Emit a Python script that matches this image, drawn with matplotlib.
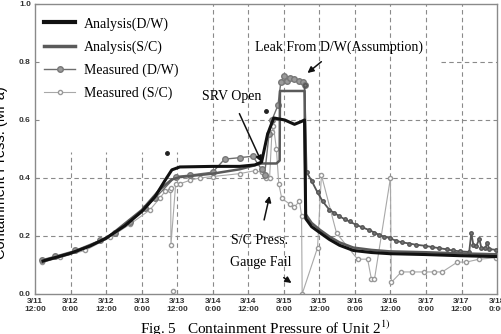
import matplotlib
matplotlib.use("Agg")
import matplotlib.pyplot as plt

plt.rcParams['mathtext.fontset'] = 'stix'

# hours counted from 3/11 12:00
tick_hours = [0, 12, 24, 36, 48, 60, 72, 84, 96, 108, 120, 132, 144, 156]
tick_labels = ["3/11\n12:00", "3/12\n0:00", "3/12\n12:00", "3/13\n0:00", "3/13\n12:00",
               "3/14\n0:00", "3/14\n12:00", "3/15\n0:00", "3/15\n12:00", "3/16\n0:00",
               "3/16\n12:00", "3/17\n0:00", "3/17\n12:00", "3/18\n0:00"]

# Analysis (D/W)
adw_t = [2.7, 11.8, 18.5, 23.9, 30.3, 36.1, 40.5, 43.8, 46.2, 48.9, 60.0, 69.1, 74.2, 76.5,
         78.5, 80.6, 84.3, 87.6, 90.0, 91.0, 91.4, 93.4, 96.1, 99.4, 102.8, 107.5, 113.6,
         119.7, 131.8, 143.6, 155.7]
adw_p = [0.114, 0.140, 0.165, 0.192, 0.235, 0.285, 0.335, 0.390, 0.428, 0.438, 0.440, 0.440,
         0.445, 0.455, 0.550, 0.607, 0.600, 0.585, 0.595, 0.600, 0.260, 0.232, 0.212, 0.188,
         0.168, 0.150, 0.143, 0.139, 0.136, 0.132, 0.129]

# Analysis (S/C)
asc_t = [2.7, 11.8, 23.9, 36.1, 42.1, 46.2, 48.9, 60.0, 69.1, 76.5, 81.5, 82.6, 82.7, 91.0,
         91.4, 93.4, 96.1, 99.4, 102.8, 107.5, 113.6, 119.7, 131.8, 143.6, 155.7]
asc_p = [0.112, 0.138, 0.190, 0.290, 0.360, 0.395, 0.403, 0.415, 0.430, 0.450, 0.450, 0.460,
         0.700, 0.700, 0.275, 0.245, 0.222, 0.198, 0.178, 0.160, 0.152, 0.147, 0.144, 0.140,
         0.137]

# Measured (D/W)
mdw_t = [2.4, 6.7, 13.5, 21.9, 27.0, 32.0, 37.1, 40.5, 47.5, 52.3, 60.0, 64.0, 69.1, 73.5,
         76.5, 77.5, 79.0, 80.0, 82.0, 83.0, 84.0, 85.0, 86.0, 87.5, 89.0, 90.5, 91.0]
mdw_p = [0.118, 0.130, 0.150, 0.185, 0.212, 0.248, 0.298, 0.330, 0.405, 0.410, 0.420, 0.465,
         0.470, 0.475, 0.430, 0.410, 0.550, 0.600, 0.650, 0.730, 0.750, 0.735, 0.745, 0.740,
         0.735, 0.730, 0.720]
mdw2_t = [91.0, 91.7, 93.4, 95.4, 97.1, 99.4, 101.0, 102.8, 104.5, 106.2, 108.5, 110.5,
          112.9, 114.6, 116.3, 118.0, 119.7, 122.0, 124.0, 126.4, 128.5, 131.8, 134.0, 136.5,
          139.0, 141.0, 143.6, 146.6, 147.3, 148.0, 149.0, 150.0, 150.7, 152.0, 152.7, 153.4,
          155.7]
mdw2_p = [0.720, 0.420, 0.390, 0.350, 0.320, 0.290, 0.280, 0.268, 0.258, 0.250, 0.238, 0.230,
          0.220, 0.212, 0.203, 0.198, 0.193, 0.183, 0.178, 0.174, 0.170, 0.166, 0.162, 0.158,
          0.154, 0.150, 0.147, 0.145, 0.210, 0.170, 0.165, 0.190, 0.160, 0.158, 0.175, 0.155,
          0.152]
stray_t = [44.5, 77.9]
stray_p = [0.486, 0.631]

# Measured (S/C)
msc_t = [2.4, 8.4, 16.9, 25.3, 32.0, 38.8, 42.1, 44.0, 45.5, 45.8, 45.9, 47.5, 48.9, 52.3,
         55.6, 60.0, 69.1, 74.2, 76.5, 77.9, 79.2, 80.0, 80.5, 81.5, 82.3, 83.3, 86.0, 87.6,
         89.3, 90.0, 90.2, 95.4, 96.7, 101.8, 108.9, 112.3, 113.6, 114.6, 120.0, 120.3,
         123.7, 127.4, 131.5, 134.8, 137.5, 142.6, 145.6, 150.0, 155.7]
msc_p = [0.110, 0.128, 0.150, 0.195, 0.240, 0.290, 0.330, 0.355, 0.360, 0.365, 0.170, 0.380,
         0.380, 0.392, 0.400, 0.405, 0.415, 0.425, 0.420, 0.400, 0.400, 0.560, 0.580, 0.500,
         0.380, 0.330, 0.310, 0.300, 0.320, 0.270, 0.000, 0.160, 0.410, 0.210, 0.120, 0.120,
         0.050, 0.050, 0.400, 0.040, 0.076, 0.076, 0.076, 0.076, 0.076, 0.110, 0.110, 0.120,
         0.125]
msc_fail_t = [46.5]
msc_fail_p = [0.010]

fig = plt.figure(figsize=(5.01, 3.34), dpi=100)
ax = fig.add_axes([0.0699, 0.1198, 0.9222, 0.8683])

# grid, partly hidden behind legend as in the original
grid_kw = dict(colors='#8a8a8a', linestyles=(0, (4, 3)), linewidths=0.8, zorder=1)
for h in tick_hours[1:-1]:
    ax.vlines(h, 0, 0.49 if h < 50 else 1.0, **grid_kw)
ax.hlines([0.2, 0.4], 0, 156, **grid_kw)
ax.hlines(0.6, 60, 156, **grid_kw)
ax.hlines(0.8, 137, 156, **grid_kw)

l_adw, = ax.plot(adw_t, adw_p, color='#111111', lw=2.2, zorder=5)
l_asc, = ax.plot(asc_t, asc_p, color='#5a5a5a', lw=1.8, zorder=4)
l_mdw, = ax.plot(mdw_t, mdw_p, color='#6e6e6e', lw=1.0, marker='o', ms=4,
                 mfc='#9a9a9a', mec='#777777', zorder=3)
ax.plot(mdw2_t, mdw2_p, color='#555555', lw=1.3, marker='o', ms=2.5,
        mfc='#777777', mec='#555555', zorder=3)
ax.plot(stray_t, stray_p, ls='none', marker='o', ms=2.5, color='#222222', zorder=3)
l_msc, = ax.plot(msc_t, msc_p, color='#a8a8a8', lw=0.8, marker='o', ms=3,
                 mfc='white', mec='#999999', zorder=2)
ax.plot(msc_fail_t, msc_fail_p, ls='none', marker='o', ms=3, mfc='white', mec='#999999',
        zorder=2)

ax.set_xlim(0, 156)
ax.set_ylim(0, 1.0)
ax.set_xticks(tick_hours)
ax.set_xticklabels(tick_labels)
ax.set_yticks([0, 0.2, 0.4, 0.6, 0.8, 1.0])
ax.set_yticklabels(["0.0", "0.2", "0.4", "0.6", "0.8", "1.0"])
ax.tick_params(direction='in', length=3, color='#888888', labelsize=6, pad=3)
for lab in ax.get_xticklabels() + ax.get_yticklabels():
    lab.set_family('Liberation Sans')
    lab.set_fontweight('bold')
    lab.set_color('#333333')
for s in ax.spines.values():
    s.set_color('#8a8a8a')
    s.set_linewidth(1.0)

ax.set_ylabel("Containment Press. (MPa)", family='Liberation Sans', fontsize=10.5)
ax.yaxis.set_label_coords(-0.058, 0.42)

leg = ax.legend([l_adw, l_asc, l_mdw, l_msc],
                ["Analysis(D/W)", "Analysis(S/C)", "Measured (D/W)", "Measured (S/C)"],
                loc='upper left', bbox_to_anchor=(0.02, 0.955), frameon=False,
                prop={'family': 'Liberation Serif', 'size': 10}, borderpad=0,
                borderaxespad=0, handlelength=2.2, handletextpad=0.65,
                labelspacing=0.7, numpoints=1)
leg.legend_handles[0].set_linewidth(3)
leg.legend_handles[1].set_linewidth(2.5)

serif = {'family': 'Liberation Serif', 'size': 10}
arrow = dict(arrowstyle='-|>', color='#111111', lw=1.1, mutation_scale=9)
ax.annotate("SRV Open", xy=(76.5, 0.455), xytext=(66.4, 0.68), ha='center', va='center',
            arrowprops=dict(arrow, shrinkA=6, shrinkB=0), **serif)
ax.annotate("Leak From D/W(Assumption)", xy=(92.0, 0.762), xytext=(102.8, 0.852),
            ha='center', va='center', arrowprops=dict(arrow, shrinkA=6, shrinkB=0), **serif)
ax.annotate("S/C Press.", xy=(79.2, 0.338), xytext=(75.8, 0.186), ha='center', va='center',
            arrowprops=dict(arrow, shrinkA=8, shrinkB=0), **serif)
ax.annotate("Gauge Fail", xy=(86.6, 0.038), xytext=(76.3, 0.11), ha='center', va='center',
            arrowprops=dict(arrow, shrinkA=8, shrinkB=0), **serif)

fig.text(0.529, 0.015, r"Fig. 5   Containment Pressure of Unit 2$^{1)}$", ha='center',
         va='center', family='Liberation Serif', fontsize=11)

fig.savefig("out.png", dpi=100)
